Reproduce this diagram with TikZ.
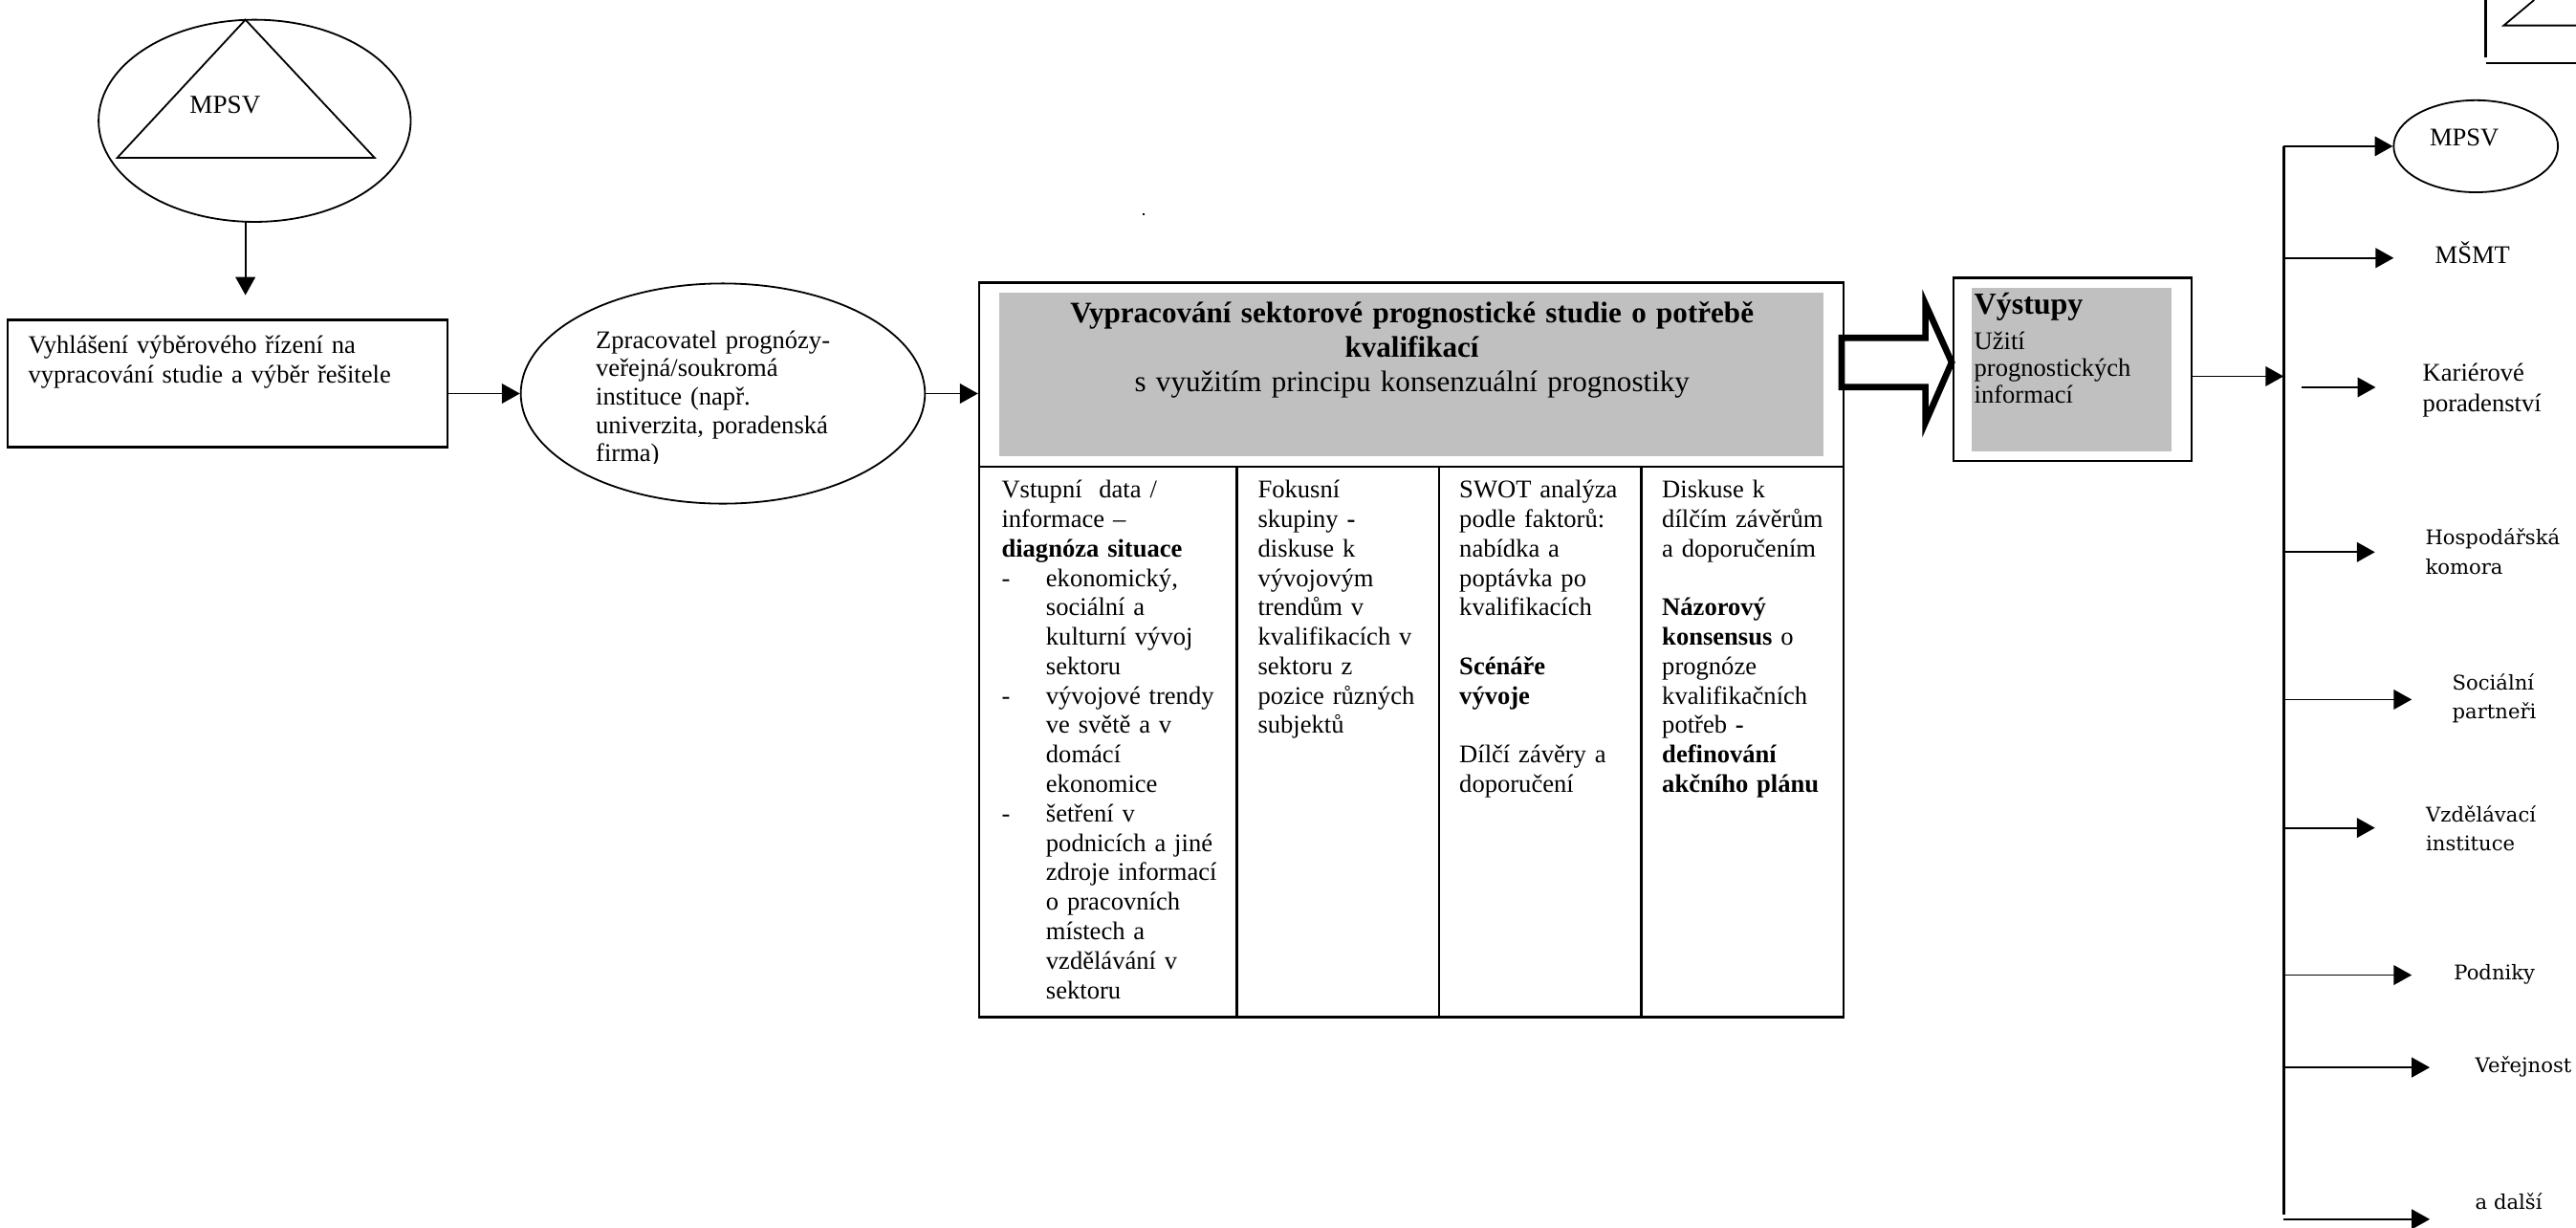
\documentclass[tikz,border=0pt]{standalone}
\usepackage{fontspec}
\setmainfont{Liberation Serif}
\newfontfamily\sirokePismo{DejaVu Serif}
\usetikzlibrary{arrows.meta,shapes.geometric,positioning}
\definecolor{sedaPlocha}{HTML}{C0C0C0}

\begin{document}
\begin{tikzpicture}[
    sipka/.style={-{Triangle[length=1.1mm,width=1.2mm]}, line width=0.3pt},
    ramecek/.style={draw, line width=0.4pt, inner sep=0pt},
    kruh/.style={draw, ellipse, line width=0.3pt, inner sep=0pt},
    textik/.style={font=\fontsize{4.4}{5.1}\selectfont, inner sep=0pt, align=left},
    siroky/.style={font=\sirokePismo\fontsize{3.5}{5.1}\selectfont, inner sep=0pt, align=left}
]
    % Picture frame
    \useasboundingbox (0,0) rectangle (15.68,-7.47);
    \def\odrazka{\makebox[2.7mm][l]{-}}
    \def\odsad{\hspace*{2.7mm}}

    % MPSV at the top
    \node[kruh, minimum width=1.90cm, minimum height=1.23cm] (mpsvHorni) at (1.55,-0.735) {};
    \draw[line width=0.3pt] (1.494,-0.12) -- (2.28,-0.96) -- (0.714,-0.96) -- cycle;
    \node[font=\fontsize{4.5}{5.1}\selectfont, inner sep=0pt, anchor=base] (mpsvHorniText) at (1.37,-0.69) {MPSV};
    \coordinate (mpsvPata) at (1.494,-1.35);
    \coordinate (vyhlaseniVrch) at (1.494,-1.796);
    \draw[sipka] (mpsvPata) -- (vyhlaseniVrch);

    % Tender
    \node[ramecek, minimum width=2.68cm, minimum height=0.774cm] (vyhlaseni) at (1.385,-2.333) {};
    \node[textik, anchor=base west, text width=2.5cm] (vyhlaseniText) at (0.165,-2.15)
        {Vyhlášení výběrového řízení na\\vypracování studie a výběr řešitele};

    % Processor
    \node[kruh, minimum width=2.46cm, minimum height=1.34cm] (zpracovatel) at (4.40,-2.395) {};
    \begin{scope}
        \clip (3.5,-1.8) rectangle (5.6,-2.82);
        \node[textik, font=\fontsize{4.4}{4.9}\selectfont, anchor=base west, text width=1.8cm] (zpracovatelText) at (3.62,-2.12)
            {Zpracovatel prognózy-\\veřejná/soukromá\\instituce (např.\\univerzita, poradenská\\firma)};
    \end{scope}
    \draw[sipka] (vyhlaseni.east |- zpracovatel.west) -- (zpracovatel.west);

    % Study
    \node[ramecek, minimum width=5.26cm, minimum height=4.47cm] (studie) at (8.59,-3.955) {};
    \draw[sipka] (zpracovatel.east) -- (studie.west |- zpracovatel.east);
    \node[fill=sedaPlocha, inner sep=0pt, minimum width=5.02cm, minimum height=0.995cm] (hlavicka) at (8.59,-2.2775) {};
    \node[font=\fontsize{5.15}{5.95}\selectfont, align=center, text width=5cm, inner sep=0pt, anchor=base] (hlavickaText) at (8.595,-1.965)
        {\textbf{Vypracování sektorové prognostické studie o potřebě}\\\textbf{kvalifikací}\\s využitím principu konsenzuální prognostiky};

    % Table
    \draw[line width=0.45pt] (studie.west |- 0,-2.84) -- (studie.east |- 0,-2.84);
    \draw[line width=0.45pt] (7.53,-2.84) -- (7.53,-6.19);
    \draw[line width=0.45pt] (8.76,-2.84) -- (8.76,-6.19);
    \draw[line width=0.45pt] (9.99,-2.84) -- (9.99,-6.19);
    \node[textik, anchor=base west, text width=1.42cm] (sloupecVstup) at (6.09,-3.03)
        {Vstupní \ data /\\informace --\\\textbf{diagnóza situace}\\
         \odrazka ekonomický,\\\odsad sociální a\\\odsad kulturní vývoj\\\odsad sektoru\\
         \odrazka vývojové trendy\\\odsad ve světě a v\\\odsad domácí\\\odsad ekonomice\\
         \odrazka šetření v\\\odsad podnicích a jiné\\\odsad zdroje informací\\\odsad o pracovních\\\odsad místech a\\\odsad vzdělávání v\\\odsad sektoru};
    \node[textik, anchor=base west, text width=1.15cm] (sloupecFokus) at (7.65,-3.03)
        {Fokusní\\skupiny \textbf{-}\\diskuse k\\vývojovým\\trendům v\\kvalifikacích v\\sektoru z\\pozice různých\\subjektů};
    \node[textik, anchor=base west, text width=1.15cm] (sloupecSwot) at (8.876,-3.03)
        {SWOT analýza\\podle faktorů:\\nabídka a\\poptávka po\\kvalifikacích\\[5.1pt]
         \textbf{Scénáře}\\\textbf{vývoje}\\[5.1pt]Dílčí závěry a\\doporučení};
    \node[textik, anchor=base west, text width=1.15cm] (sloupecDiskuse) at (10.11,-3.03)
        {Diskuse k\\dílčím závěrům\\a doporučením\\[5.1pt]
         \textbf{Názorový}\\\textbf{konsensus} o\\prognóze\\kvalifikačních\\potřeb \textbf{-}\\\textbf{definování}\\\textbf{akčního plánu}};

    % Stray dot
    \fill (6.955,-1.295) rectangle (6.967,-1.307);

    % Outputs
    \draw[line width=1.1pt, line join=miter, fill=white] (11.21,-2.056) -- (11.72,-2.056) -- (11.72,-1.85) -- (11.88,-2.205)
        -- (11.72,-2.57) -- (11.72,-2.356) -- (11.21,-2.356) -- cycle;
    \node[ramecek, minimum width=1.45cm, minimum height=1.115cm] (vystupy) at (12.615,-2.2475) {};
    \node[fill=sedaPlocha, inner sep=0pt, minimum width=1.22cm, minimum height=0.995cm] (vystupyPole) at (12.61,-2.2475) {};
    \node[font=\fontsize{5.3}{6}\selectfont\bfseries, inner sep=0pt, anchor=base west] (vystupyNadpis) at (12.01,-1.91) {Výstupy};
    \node[textik, font=\fontsize{4.4}{4.7}\selectfont, anchor=base west, text width=1.2cm] (vystupyText) at (12.01,-2.125)
        {Užití\\prognostických\\informací};

    % Distribution line
    \coordinate (rozvodHorni) at (13.90,-0.89);
    \coordinate (rozvod) at (13.90,-2.29);
    \coordinate (rozvodDolni) at (13.90,-7.39);
    \draw[line width=0.45pt] (rozvodHorni) -- (rozvodDolni);
    \draw[sipka] (vystupy.east |- rozvod) -- (rozvod);

    % Users of the information
    \node[kruh, minimum width=1.0cm, minimum height=0.56cm] (mpsvKruh) at (15.07,-0.89) {};
    \node[font=\fontsize{4.4}{5.1}\selectfont, inner sep=0pt, anchor=base] (mpsvKruhText) at (15.00,-0.885) {MPSV};
    \draw[sipka] (rozvodHorni) -- (mpsvKruh.west);

    \coordinate (msmtOdbocka) at (13.90,-1.57);
    \coordinate (msmtHrot) at (14.57,-1.57);
    \draw[sipka] (msmtOdbocka) -- (msmtHrot);
    \node[font=\fontsize{4.4}{5.1}\selectfont, inner sep=0pt, anchor=base] (msmt) at (15.05,-1.605) {MŠMT};

    \coordinate (karieraStart) at (14.01,-2.357);
    \coordinate (karieraHrot) at (14.46,-2.357);
    \draw[sipka] (karieraStart) -- (karieraHrot);
    \node[textik, font=\fontsize{4.4}{5.2}\selectfont, anchor=base west, text width=1.2cm] (kariera) at (14.74,-2.32) {Kariérové\\poradenství};

    \coordinate (komoraOdbocka) at (13.90,-3.36);
    \coordinate (komoraHrot) at (14.456,-3.36);
    \draw[sipka] (komoraOdbocka) -- (komoraHrot);
    \node[siroky, anchor=base west, text width=1.0cm] (komora) at (14.756,-3.316) {Hospodářská\\komora};

    \coordinate (partneriOdbocka) at (13.90,-4.257);
    \coordinate (partneriHrot) at (14.68,-4.257);
    \draw[sipka] (partneriOdbocka) -- (partneriHrot);
    \node[siroky, anchor=base west, text width=1.0cm] (partneri) at (14.92,-4.197) {Sociální\\partneři};

    \coordinate (instituceOdbocka) at (13.90,-5.038);
    \coordinate (instituceHrot) at (14.456,-5.038);
    \draw[sipka] (instituceOdbocka) -- (instituceHrot);
    \node[siroky, anchor=base west, text width=1.0cm] (instituce) at (14.76,-5.00) {Vzdělávací\\instituce};

    \coordinate (podnikyOdbocka) at (13.90,-5.934);
    \coordinate (podnikyHrot) at (14.68,-5.934);
    \draw[sipka] (podnikyOdbocka) -- (podnikyHrot);
    \node[siroky, anchor=base west] (podniky) at (14.93,-5.964) {Podniky};

    \coordinate (verejnostOdbocka) at (13.90,-6.496);
    \coordinate (verejnostHrot) at (14.79,-6.496);
    \draw[sipka] (verejnostOdbocka) -- (verejnostHrot);
    \node[siroky, anchor=base west] (verejnost) at (15.06,-6.525) {Veřejnost};

    \coordinate (dalsiOdbocka) at (13.90,-7.42);
    \coordinate (dalsiHrot) at (14.79,-7.42);
    \draw[sipka] (dalsiOdbocka) -- (dalsiHrot);
    \node[siroky, anchor=base west] (dalsi) at (15.06,-7.36) {a další};

    % Cut-off shape in the corner
    \draw[line width=0.35pt] (15.13,0) -- (15.13,-0.35);
    \draw[line width=0.35pt] (15.13,-0.382) -- (15.68,-0.382);
    \draw[line width=0.3pt] (15.425,0) -- (15.24,-0.155) -- (15.68,-0.155);
\end{tikzpicture}
\end{document}
